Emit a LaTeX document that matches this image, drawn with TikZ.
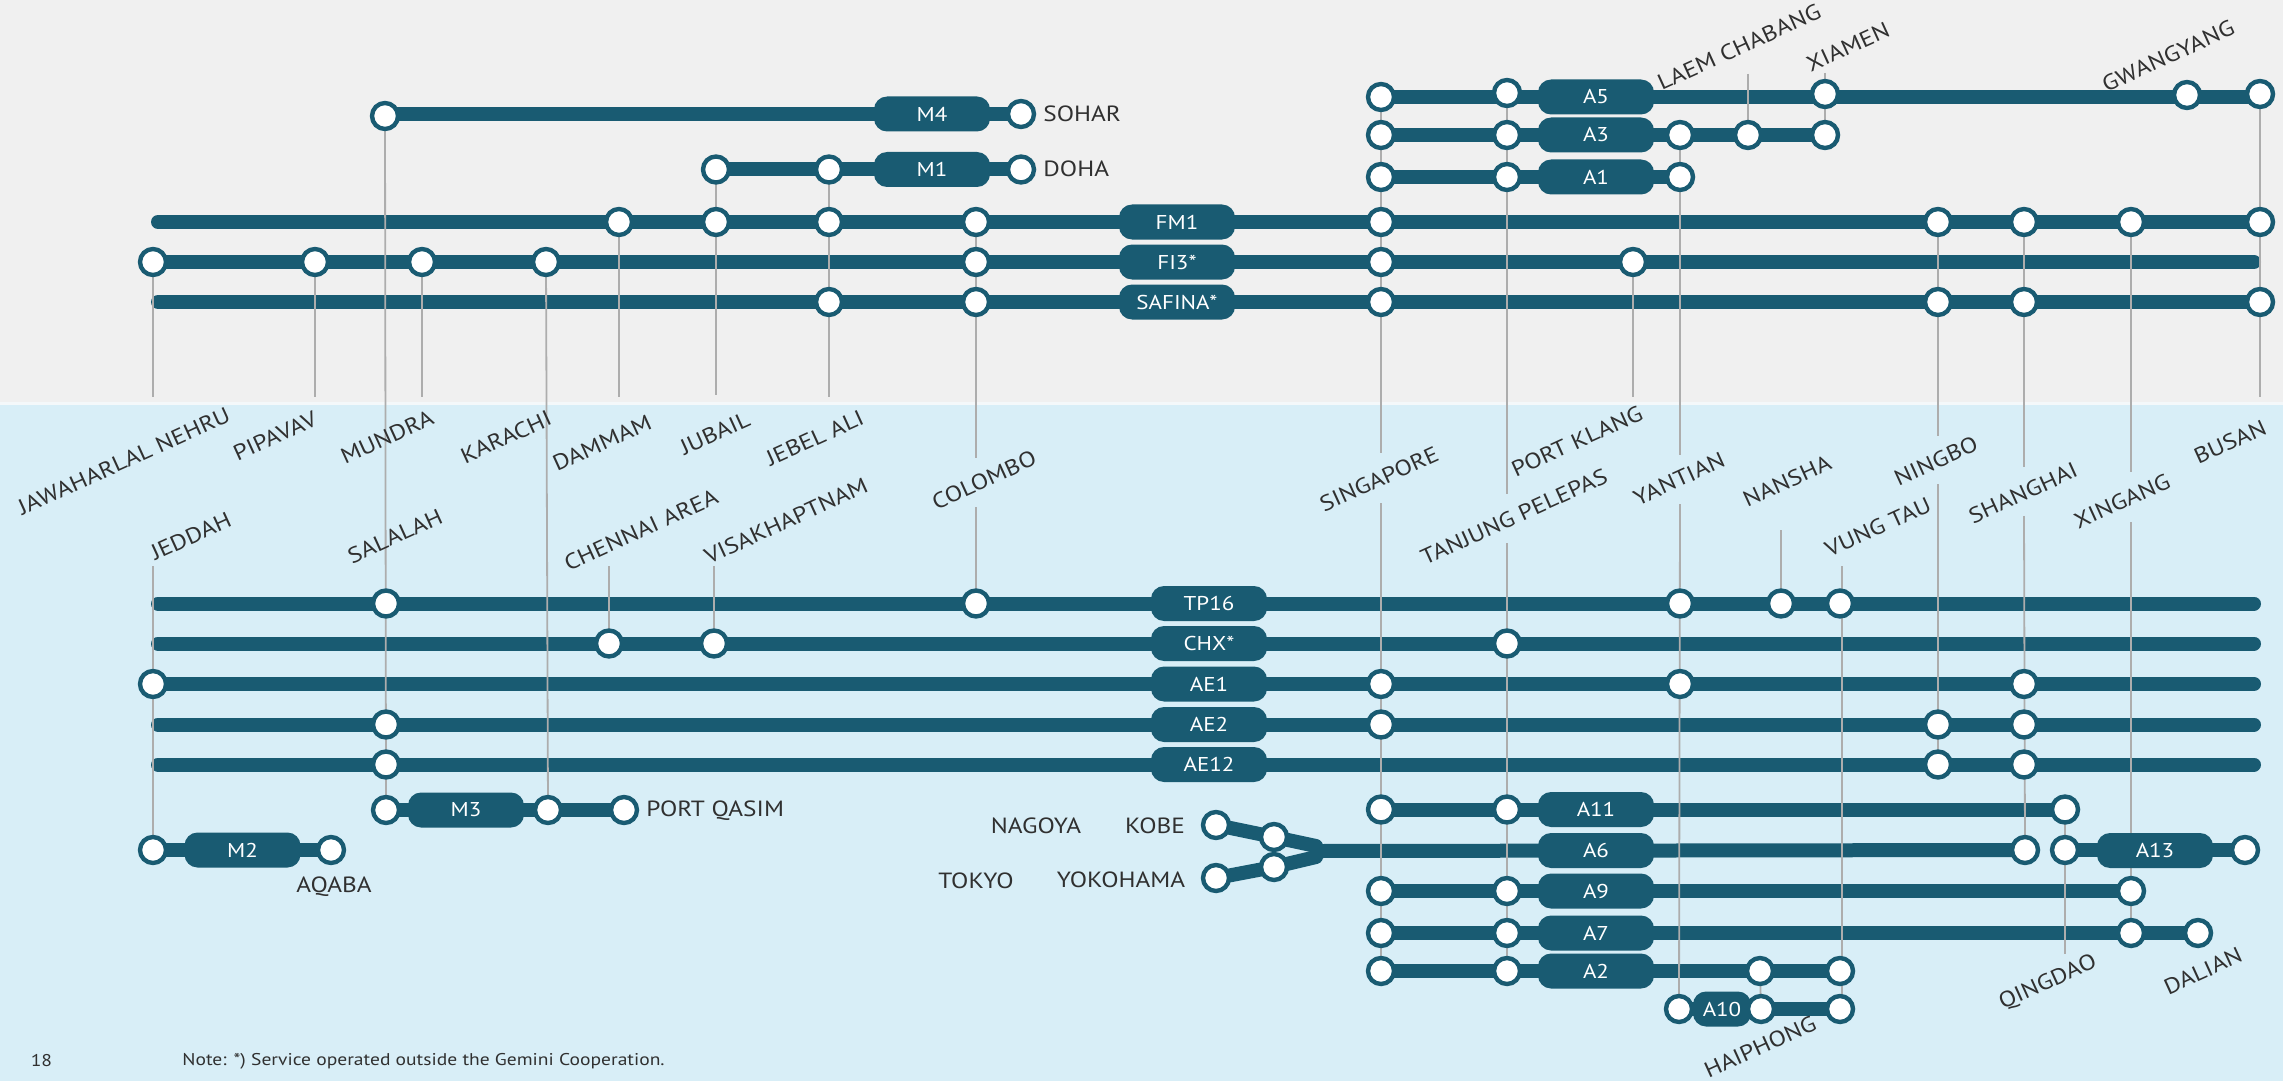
\documentclass[tikz,border=0pt]{standalone}
\usepackage{fontspec}
\setmainfont[FakeStretch=1.15]{PT Sans}
\definecolor{teal1}{HTML}{195B72}
\definecolor{bggrey}{HTML}{F0F0F0}
\definecolor{bgblue}{HTML}{D8EEF7}
\definecolor{bandcol}{HTML}{F4F8FA}
\definecolor{feedgrey}{HTML}{ADADAD}
\definecolor{ink}{HTML}{303030}
\pgfdeclarelayer{bglayer}\pgfdeclarelayer{routes}\pgfdeclarelayer{feeders}
\pgfsetlayers{bglayer,routes,feeders,main}
\tikzset{
  stopdot/.style={circle,draw=teal1,fill=white,line width=2.2pt,minimum size=13pt,inner sep=0pt},
  badge/.style={fill=teal1,text=white,rounded corners=6.5pt,minimum height=17.5pt,minimum width=58pt,inner sep=0pt,font=\fontsize{10}{12}\selectfont},
  route/.style={draw=teal1,line width=7pt,line cap=round},
  feeder/.style={draw=feedgrey,line width=0.9pt},
  port/.style={text=ink,font=\fontsize{11}{12}\selectfont,inner sep=0pt},
  slant/.style={port,rotate=24.5},
}
\begin{document}
\begin{tikzpicture}[x=0.5pt,y=-0.5pt]
\useasboundingbox (0,0) rectangle (2283,1081);
\begin{pgfonlayer}{bglayer}
\fill[bandcol] (0,0) rectangle (2283,1081);
\fill[bggrey] (0,0) rectangle (2283,402);
\fill[bgblue] (0,405) rectangle (2283,1081);
\end{pgfonlayer}

% service badges
\foreach \n/\t/\x/\y/\w in {bM4/M4/932/114/58,bM1/M1/932/169.5/58,bFM1/FM1/1177/222/58,bFI3/FI3*/1177/262/58,bSAF/SAFINA*/1177/302/58,
  bA5/A5/1596/97/58,bA3/A3/1596/135/58,bA1/A1/1596/177/58,
  bTP/TP16/1209/603.5/58,bCHX/CHX*/1209/643.5/58,bAE1/AE1/1209/684/58,bAE2/AE2/1209/724.5/58,bAE12/AE12/1209/764.5/58,
  bM3/M3/466/810/58,bM2/M2/242.5/850/58,bA11/A11/1596/809.5/58,bA6/A6/1596/850.5/58,bA13/A13/2155/850.5/58,
  bA9/A9/1596/891/58,bA7/A7/1596/933/58,bA2/A2/1596/971/58,bA10/A10/1722/1009/29}
  \node[badge,minimum width=\w pt] (\n) at (\x,\y) {\t};

% stops
\foreach \x/\y in {1381/97,1507/93,1825/94,2187/95,2260/94} \node[stopdot] (a5-\x) at (\x,\y) {};
\foreach \x in {1381,1507,1680,1748,1825} \node[stopdot] (a3-\x) at (\x,135) {};
\foreach \x in {1381,1507,1680} \node[stopdot] (a1-\x) at (\x,177) {};
\foreach \x in {619,716,829,976,1381,1938,2024,2131,2260} \node[stopdot] (fm-\x) at (\x,222) {};
\foreach \x in {153,315,422,546,976,1381,1633} \node[stopdot] (fi-\x) at (\x,262) {};
\foreach \x in {829,976,1381,1938,2024,2260} \node[stopdot] (sa-\x) at (\x,302) {};
\node[stopdot] (m4-385) at (385,116) {};
\node[stopdot] (m4-1021) at (1021,114) {};
\foreach \x in {716,829,1021} \node[stopdot] (m1-\x) at (\x,169.5) {};
\foreach \x in {386,976,1680,1781,1840} \node[stopdot] (tp-\x) at (\x,603.5) {};
\foreach \x in {609,714,1507} \node[stopdot] (ch-\x) at (\x,643.5) {};
\foreach \x in {153,1381,1680,2024} \node[stopdot] (ae1-\x) at (\x,684) {};
\foreach \x in {386,1381,1938,2024} \node[stopdot] (ae2-\x) at (\x,724.5) {};
\foreach \x in {386,1938,2024} \node[stopdot] (ae12-\x) at (\x,764.5) {};
\foreach \x in {386,548,624} \node[stopdot] (m3-\x) at (\x,810) {};
\foreach \x in {153,331} \node[stopdot] (m2-\x) at (\x,850) {};
\foreach \x in {1381,1507,2065} \node[stopdot] (a11-\x) at (\x,809.5) {};
\node[stopdot] (a6-2025) at (2025,850) {};
\foreach \x in {2065,2245} \node[stopdot] (a13-\x) at (\x,850) {};
\foreach \x in {1381,1507,2131} \node[stopdot] (a9-\x) at (\x,891) {};
\foreach \x in {1381,1507,2131,2198} \node[stopdot] (a7-\x) at (\x,933) {};
\foreach \x in {1381,1507,1760,1840} \node[stopdot] (a2-\x) at (\x,971) {};
\foreach \x in {1679,1761,1840} \node[stopdot] (a10-\x) at (\x,1009) {};
\node[stopdot] (kobe) at (1216,825) {};
\node[stopdot] (kobe2) at (1274,837) {};
\node[stopdot] (yoko) at (1216,878) {};
\node[stopdot] (yoko2) at (1274,867) {};

% free line ends
\foreach \n/\x/\y in {lFM/158/222,rFI/2254/262,lSA/158/302,lTP/158/603.5,rTP/2254/603.5,lCH/158/643.5,rCH/2254/643.5,rAE1/2254/684,lAE2/158/724.5,rAE2/2254/724.5,lAE12/158/764.5,rAE12/2254/764.5,
  jt/1316/846,jb/1316/857,jm/1320/851,
  e153/153/397,e315/315/397,e422/422/397,e619/619/397,e716/716/395,e829/829/397,e1633/1633/397,e2260/2260/397,
  cA/976/458,cB/976/507,sA/1381/453,sB/1381/503,tA/1507/494,tB/1507/543,yA/1680/455,yB/1680/504,
  nA/1781/530,ngA/1938/436,ngB/1938/484,shA/2024/467,shB/2024/516,xA/2131/472,xB/2131/522,
  laem/1748/74,xia/1825/73,vt/1842/566,chen/609/566,vis/714/566,jed/153/566,qing/2065/954,v1842/1842/1009}
  \coordinate (\n) at (\x,\y);

\begin{pgfonlayer}{routes}
\draw[route] (m4-385.center |- bM4) -- (m4-1021.center);
\draw[route] (m1-716.center) -- (m1-1021.center);
\draw[route] (lFM) -- (fm-2260.center);
\draw[route] (fi-153.center) -- (rFI);
\draw[route] (lSA) -- (sa-2260.center);
\draw[route] (a5-1381.center |- bA5) -- (a5-2260.center |- bA5);
\draw[route] (a3-1381.center) -- (a3-1825.center);
\draw[route] (a1-1381.center) -- (a1-1680.center);
\draw[route] (lTP) -- (rTP);
\draw[route] (lCH) -- (rCH);
\draw[route] (ae1-153.center) -- (rAE1);
\draw[route] (lAE2) -- (rAE2);
\draw[route] (lAE12) -- (rAE12);
\draw[route] (m3-386.center) -- (m3-624.center);
\draw[route] (m2-153.center) -- (m2-331.center);
\draw[route] (a11-1381.center) -- (a11-2065.center);
\draw[route] (jm) -- (a6-2025.center);
\draw[route] (a13-2065.center) -- (a13-2245.center);
\draw[route] (a9-1381.center) -- (a9-2131.center);
\draw[route] (a7-1381.center) -- (a7-2198.center);
\draw[route] (a2-1381.center) -- (a2-1840.center);
\draw[route] (a10-1679.center) -- (a10-1840.center);
\draw[route,line join=round] (kobe.center) -- (kobe2.center) -- (jt);
\draw[route,line join=round] (yoko.center) -- (yoko2.center) -- (jb);
\end{pgfonlayer}

\begin{pgfonlayer}{feeders}
\foreach \a/\b in {fi-153/e153,fi-315/e315,fi-422/e422,fm-619/e619,m1-716/e716,m1-829/e829,fi-1633/e1633,a5-2260/e2260,
  m4-385/m3-386,fi-546/m3-548,fm-976/cA,cB/tp-976,a5-1381/sA,sB/a2-1381,a5-1507/tA,tB/a2-1507,
  a3-1680/yA,yB/a10-1679,nA/tp-1781,fm-1938/ngA,ngB/ae12-1938,fm-2024/shA,shB/a6-2025,fm-2131/xA,xB/a7-2131,
  laem/a3-1748,xia/a3-1825,vt/v1842,chen/ch-609,vis/ch-714,jed/m2-153,a11-2065/qing,a2-1760/a10-1761}
  \draw[feeder] (\a.center) -- (\b.center);
\end{pgfonlayer}

% port names
\node[slant] at (124,461) {JAWAHARLAL NEHRU};
\node[slant] at (275,436) {PIPAVAV};
\node[slant] at (387,437) {MUNDRA};
\node[slant] at (506,437) {KARACHI};
\node[slant] at (602,443) {DAMMAM};
\node[slant] at (715,433) {JUBAIL};
\node[slant] at (815,438) {JEBEL ALI};
\node[slant] at (984,480) {COLOMBO};
\node[slant] at (191,536) {JEDDAH};
\node[slant] at (395,536) {SALALAH};
\node[slant] at (641,530) {CHENNAI AREA};
\node[slant] at (786,521) {VISAKHAPTNAM};
\node[slant] at (1739,47) {LAEM CHABANG};
\node[slant] at (1848,47) {XIAMEN};
\node[slant] at (2168,56) {GWANGYANG};
\node[slant] at (1379,479) {SINGAPORE};
\node[slant] at (1577,441) {PORT KLANG};
\node[slant] at (1514,517) {TANJUNG PELEPAS};
\node[slant] at (1679,479) {YANTIAN};
\node[slant] at (1787,481) {NANSHA};
\node[slant] at (1936,461) {NINGBO};
\node[slant] at (1878,527) {VUNG TAU};
\node[slant] at (2023,493) {SHANGHAI};
\node[slant] at (2122,501) {XINGANG};
\node[slant] at (2230,442) {BUSAN};
\node[slant] at (2048,983) {QINGDAO};
\node[slant] at (2203,971) {DALIAN};
\node[slant] at (1760,1047) {HAIPHONG};
\node[port,anchor=west] at (1043,114) {SOHAR};
\node[port,anchor=west] at (1043,169) {DOHA};
\node[port,anchor=west] at (646,811) {PORT QASIM};
\node[port] at (334,886.5) {AQABA};
\node[port] at (1036,825.5) {NAGOYA};
\node[port] at (1155,825.5) {KOBE};
\node[port] at (976,881) {TOKYO};
\node[port] at (1121,880) {YOKOHAMA};
\node[text=ink,font=\fontsize{8.5}{10}\selectfont,inner sep=0pt] at (41.5,1061) {18};
\node[text=ink,font=\fontsize{8.5}{10}\selectfont,inner sep=0pt,anchor=west] at (182,1061) {Note: *) Service operated outside the Gemini Cooperation.};
\end{tikzpicture}
\end{document}
